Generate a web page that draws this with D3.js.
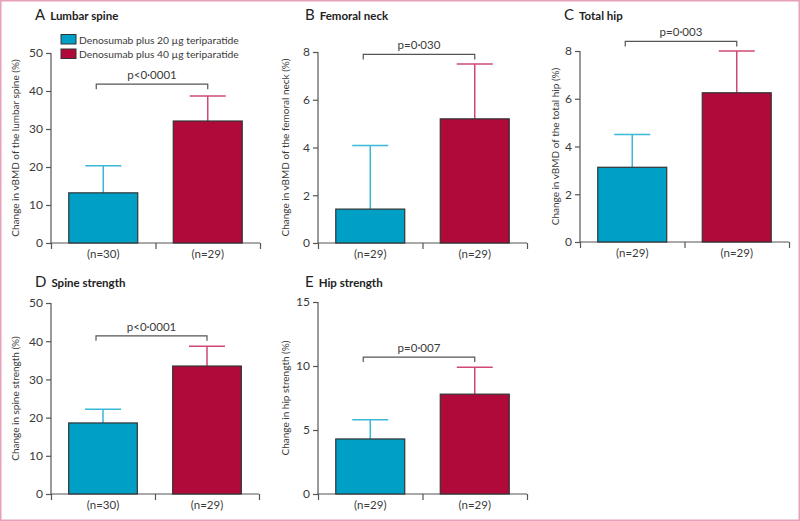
<!DOCTYPE html>
<html><head><meta charset="utf-8">
<script src="https://cdn.jsdelivr.net/npm/d3@7/dist/d3.min.js"></script>
<style>
html,body{margin:0;padding:0;background:#fff;}
svg{display:block;font-family:Lato,"Open Sans",sans-serif;}
</style></head>
<body>
<svg id="chart" width="800" height="521"></svg>
<script>
// ---- data ----
const panelLetters = ["A", "B", "C", "D", "E"];
const panelTitles = ["Lumbar spine", "Femoral neck", "Total hip", "Spine strength", "Hip strength"];
const yAxisTitles = [
  "Change in vBMD of the lumbar spine (%)",
  "Change in vBMD of the femoral neck (%)",
  "Change in vBMD of the total hip (%)",
  "Change in spine strength (%)",
  "Change in hip strength (%)"
];
const yMaxValues = [50, 8, 8, 50, 15];
const yTickValues = [[0,10,20,30,40,50],[0,2,4,6,8],[0,2,4,6,8],[0,10,20,30,40,50],[0,5,10,15]];
const seriesNames = ["Denosumab plus 20 µg teriparatide", "Denosumab plus 40 µg teriparatide"];
const dose20Means = [13.2, 1.42, 3.13, 18.6, 4.3];
const dose20Upper = [20.3, 4.08, 4.5, 22.2, 5.8];
const dose40Means = [32.1, 5.2, 6.25, 33.5, 7.8];
const dose40Upper = [38.7, 7.5, 8.0, 38.7, 9.9];
const dose20N = ["(n=30)", "(n=29)", "(n=29)", "(n=30)", "(n=29)"];
const dose40N = ["(n=29)", "(n=29)", "(n=29)", "(n=29)", "(n=29)"];
const pValues = ["p<0·0001", "p=0·030", "p=0·003", "p<0·0001", "p=0·007"];
const bracketLevels = [41.8, 7.9, 8.4, 41.4, 10.7];

// ---- layout ----
const layout = [
  {x0:51, x1:260, yTop:53, y0:243, labelX:15, titleX:35, titleY:20},
  {x0:318, x1:527, yTop:52, y0:243, labelX:285, titleX:305, titleY:20},
  {x0:580, x1:789, yTop:51, y0:242, labelX:555, titleX:564, titleY:20},
  {x0:51, x1:259, yTop:303, y0:494, labelX:15, titleX:35, titleY:287},
  {x0:318, x1:527, yTop:302, y0:494, labelX:285, titleX:305, titleY:287}
];
const barFill = ["#009fc6", "#b00a3a"];
const errColor = ["#3ab8d8", "#cf4872"];
const axisColor = "#555";
const textColor = "#3a3a3a";

const svg = d3.select("#chart");
// frame
svg.append("rect").attr("x",0.75).attr("y",0.75).attr("width",798.5).attr("height",519.5)
  .attr("fill","none").attr("stroke","#e6a0b8").attr("stroke-width",1.5);

panelLetters.forEach((letter, i) => {
  const L = layout[i];
  const g = svg.append("g");
  const y = d3.scaleLinear().domain([0, yMaxValues[i]]).range([L.y0, L.yTop]);
  const x = d3.scaleBand().domain([0, 1]).range([L.x0, L.x1]).paddingInner(0.34).paddingOuter(0.17);
  const xt = d3.scaleLinear().domain([0, 2]).range([L.x0, L.x1]);

  // title
  const t = g.append("text").attr("x", L.titleX).attr("y", L.titleY).attr("fill", "#222");
  t.append("tspan").attr("font-size", 15).text(letter);
  t.append("tspan").attr("dx", 5).attr("font-size", 11.5).attr("font-weight", "bold").text(panelTitles[i]);

  // y axis
  const ya = g.append("g").attr("transform", `translate(${L.x0},0)`)
    .call(d3.axisLeft(y).tickValues(yTickValues[i]).tickSize(5).tickPadding(3).tickFormat(d3.format("d")));
  ya.select(".domain").attr("stroke", axisColor).attr("stroke-width", 1.2).attr("d", `M0,${L.y0}V${L.yTop}`);
  ya.selectAll(".tick line").attr("stroke", axisColor).attr("stroke-width", 1.2);
  ya.selectAll(".tick text").attr("fill", textColor).attr("font-size", 12).attr("font-family", "Lato, sans-serif");

  // x axis
  const xa = g.append("g").attr("transform", `translate(0,${L.y0})`)
    .call(d3.axisBottom(xt).tickValues([0, 1, 2]).tickSize(6).tickFormat(""));
  xa.select(".domain").attr("stroke", axisColor).attr("stroke-width", 1.2).attr("d", `M${L.x0},0H${L.x1}`);
  xa.selectAll(".tick line").attr("stroke", axisColor).attr("stroke-width", 1.2);

  // n labels
  [dose20N[i], dose40N[i]].forEach((lab, k) => {
    g.append("text").attr("x", x(k) + x.bandwidth() / 2).attr("y", L.y0 + 15)
      .attr("text-anchor", "middle").attr("font-size", 11.5)
      .attr("fill", textColor).text(lab);
  });

  // y label
  g.append("text").attr("transform", `translate(${L.labelX},${(L.y0 + L.yTop) / 2}) rotate(-90)`)
    .attr("text-anchor", "middle").attr("dy", "0.35em").attr("font-size", 10).attr("fill", textColor)
    .text(yAxisTitles[i]);

  const means = [dose20Means[i], dose40Means[i]];
  const uppers = [dose20Upper[i], dose40Upper[i]];
  const capW = 36;
  means.forEach((m, k) => {
    const cx = x(k) + x.bandwidth() / 2;
    // error bar
    g.append("line").attr("x1", cx).attr("x2", cx).attr("y1", y(m)).attr("y2", y(uppers[k]))
      .attr("stroke", errColor[k]).attr("stroke-width", 1.5);
    g.append("line").attr("x1", cx - capW / 2).attr("x2", cx + capW / 2).attr("y1", y(uppers[k])).attr("y2", y(uppers[k]))
      .attr("stroke", errColor[k]).attr("stroke-width", 1.5);
    // bar
    g.append("rect").attr("x", x(k)).attr("y", y(m)).attr("width", x.bandwidth()).attr("height", y(0) - y(m))
      .attr("fill", barFill[k]).attr("stroke", "#333").attr("stroke-width", 1.2);
  });

  // bracket
  const bx1 = x(0) + x.bandwidth() / 2 - 7, bx2 = x(1) + x.bandwidth() / 2;
  const by = y(bracketLevels[i]);
  g.append("path").attr("d", `M${bx1},${by + 5}V${by}H${bx2}V${by + 5}`)
    .attr("fill", "none").attr("stroke", "#555").attr("stroke-width", 1.2);
  g.append("text").attr("x", (bx1 + bx2) / 2).attr("y", by - 5).attr("text-anchor", "middle")
    .attr("font-size", 11.5).attr("fill", textColor).text(pValues[i]);
});

// legend
const lg = svg.append("g");
seriesNames.forEach((s, k) => {
  lg.append("rect").attr("x", 61).attr("y", 34.5 + k * 14.5).attr("width", 15).attr("height", 9.5)
    .attr("fill", barFill[k]).attr("stroke", "#333").attr("stroke-width", 1);
  lg.append("text").attr("x", 79).attr("y", 43.5 + k * 14.5).attr("font-size", 10.3)
    .attr("fill", textColor).text(s);
});
</script>
</body></html>
